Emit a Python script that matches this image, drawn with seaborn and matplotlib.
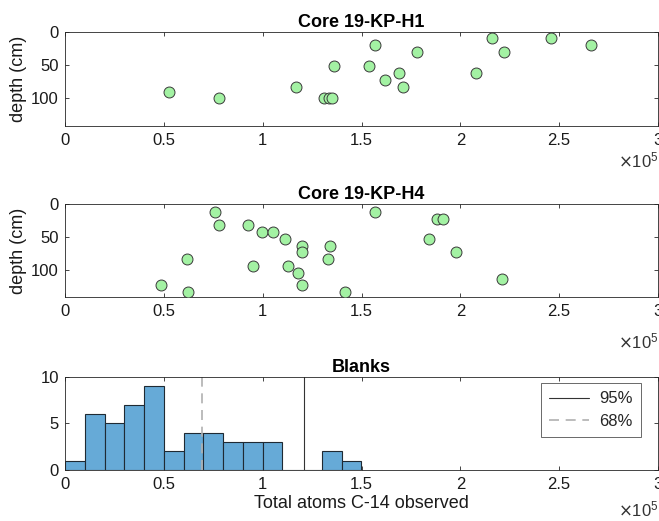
import numpy as np
import pandas as pd
import matplotlib
matplotlib.use("Agg")
import matplotlib.pyplot as plt
import seaborn as sns

sns.set_theme(style="white")
plt.rcParams['font.family'] = ['Liberation Sans', 'DejaVu Sans']

# ---- data ----
h1_atoms_e5 = [2.16, 2.46, 2.66, 1.57, 1.78, 2.22, 1.36, 1.54, 1.69, 2.08,
               1.62, 1.71, 1.17, 0.527, 0.778, 1.31, 1.335, 1.35]
h1_depth = [10, 10, 20, 20, 31, 31, 52, 52, 62, 62,
            72, 83, 83, 91, 100, 100, 100, 100]

h4_atoms_e5 = [0.757, 1.57, 0.780, 0.925, 1.88, 1.914, 0.999, 1.051, 1.115, 1.84,
               1.20, 1.34, 1.20, 1.98, 0.616, 1.33, 0.952, 1.13, 1.18, 2.21,
               0.485, 1.20, 0.62, 1.418]
h4_depth = [12.5, 12.5, 32.5, 32.5, 22.5, 22.5, 42.5, 42.5, 52.5, 52.5,
            63.5, 63.5, 73, 73, 83, 83, 94, 94, 104, 114,
            123.5, 123.5, 133, 133]

blank_bin_edges_e5 = [0.0, 0.1, 0.2, 0.3, 0.4, 0.5, 0.6, 0.7, 0.8, 0.9,
                      1.0, 1.1, 1.2, 1.3, 1.4, 1.5]
blank_counts = [1, 6, 5, 7, 9, 2, 4, 4, 3, 3, 3, 0, 0, 2, 1]

limit_95_e5 = 1.209
limit_68_e5 = 0.694

x_ticks = [0, 0.5, 1, 1.5, 2, 2.5, 3]
x_tick_labels = ['0', '0.5', '1', '1.5', '2', '2.5', '3']
depth_ticks = [0, 50, 100]
count_ticks = [0, 5, 10]

# ---- styling ----
W, H = 659, 521
fig = plt.figure(figsize=(W / 100, H / 100), dpi=100)
axcol = '#262626'
fs = 12
lfs = 13

def px_axes(left, top, right, bottom):
    return fig.add_axes([left / W, 1 - bottom / H, (right - left) / W, (bottom - top) / H])

def style(ax):
    for s in ax.spines.values():
        s.set_color(axcol)
        s.set_linewidth(0.6)
    ax.tick_params(direction='in', length=3, width=0.6, color=axcol,
                   labelcolor='#1a1a1a', labelsize=fs, top=True, right=True,
                   bottom=True, left=True)
    ax.tick_params(axis='x', pad=5)
    ax.tick_params(axis='y', pad=4.5)
    ax.set_xlim(0, 3e5)
    ax.set_xticks([t * 1e5 for t in x_ticks])
    ax.set_xticklabels(x_tick_labels)

green = '#a3f2a3'

ax1 = px_axes(65, 31.7, 658, 125.7)
df1 = pd.DataFrame({'atoms': np.array(h1_atoms_e5) * 1e5, 'depth': h1_depth})
sns.scatterplot(data=df1, x='atoms', y='depth', ax=ax1, s=62, color=green,
                edgecolor='#3a3a3a', linewidth=0.7, zorder=3)
style(ax1)
ax1.set_ylim(141.5, 0)
ax1.set_yticks(depth_ticks)
ax1.set_xlabel('')
ax1.set_ylabel('depth (cm)', fontsize=lfs, labelpad=3, color='#1a1a1a')
ax1.set_title('Core 19-KP-H1', fontsize=lfs, fontweight='bold', pad=3.5, color='black')

ax2 = px_axes(65, 204, 658, 297.3)
df2 = pd.DataFrame({'atoms': np.array(h4_atoms_e5) * 1e5, 'depth': h4_depth})
sns.scatterplot(data=df2, x='atoms', y='depth', ax=ax2, s=62, color=green,
                edgecolor='#3a3a3a', linewidth=0.7, zorder=3)
style(ax2)
ax2.set_ylim(141.5, 0)
ax2.set_yticks(depth_ticks)
ax2.set_xlabel('')
ax2.set_ylabel('depth (cm)', fontsize=lfs, labelpad=3, color='#1a1a1a')
ax2.set_title('Core 19-KP-H4', fontsize=lfs, fontweight='bold', pad=3.5, color='black')

ax3 = px_axes(65, 376.7, 658, 470)
edges = np.array(blank_bin_edges_e5) * 1e5
centers = (edges[:-1] + edges[1:]) / 2
df3 = pd.DataFrame({'atoms': centers, 'count': blank_counts})
sns.histplot(data=df3, x='atoms', weights='count', bins=list(edges), ax=ax3,
             color='#66aad7', alpha=1.0, edgecolor='#1f2a33', linewidth=0.8)
style(ax3)
ax3.set_ylim(0, 10)
ax3.set_yticks(count_ticks)
ax3.axvline(limit_95_e5 * 1e5, color='#333333', lw=0.8, label='95%')
ax3.axvline(limit_68_e5 * 1e5, color='#b0b0b0', lw=1.2, ls=(0, (6, 4)), label='68%')
ax3.set_ylabel('')
ax3.set_xlabel('Total atoms C-14 observed', fontsize=lfs, labelpad=2, color='#1a1a1a')
ax3.set_title('Blanks', fontsize=lfs, fontweight='bold', pad=3.5, color='black')
leg = ax3.legend(loc='upper right', fontsize=fs, frameon=True, fancybox=False,
                 edgecolor='#262626', handlelength=2.4, handletextpad=0.6,
                 borderpad=0.5, labelspacing=0.45, borderaxespad=0.3,
                 bbox_to_anchor=(0.98, 0.985))
leg.get_frame().set_linewidth(0.6)

# exponent labels
for yc in (160, 341.7, 509):
    fig.text(659 / W, 1 - yc / H, r'$\times\mathregular{10^{5}}$', ha='right', va='center',
             fontsize=fs, color='#333333')

fig.savefig('out.png', dpi=100)
